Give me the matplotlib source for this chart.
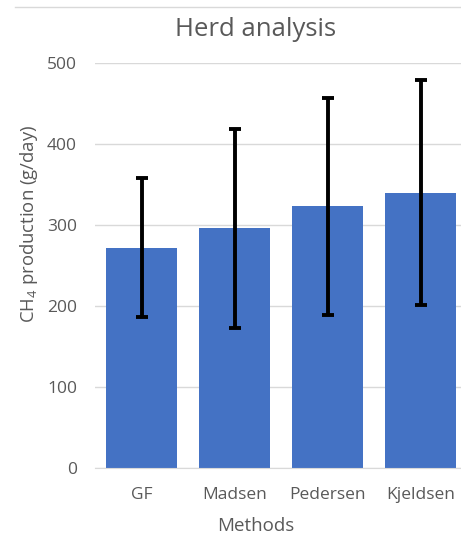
import matplotlib
matplotlib.use("Agg")
import matplotlib.pyplot as plt
from matplotlib.lines import Line2D

categories = ["GF", "Madsen", "Pedersen", "Kjeldsen"]
values = [272, 296, 323, 340]
errors = [86, 123, 134, 139]
yticks = [0, 100, 200, 300, 400, 500]

plt.rcParams['font.family'] = ['Open Sans', 'DejaVu Sans']
plt.rcParams['mathtext.fontset'] = 'custom'
plt.rcParams['mathtext.rm'] = 'Open Sans'
plt.rcParams['mathtext.it'] = 'Open Sans'

txt = '#595959'
fig = plt.figure(figsize=(4.61, 5.36), dpi=100)
W, H = 461, 536
ax = fig.add_axes([95 / W, 1 - 468 / H, 372 / W, (468 - 63) / H])

x = list(range(len(categories)))
ax.bar(x, values, width=0.77, color='#4472C4', zorder=2)
ax.errorbar(x, values, yerr=errors, fmt='none', ecolor='black', elinewidth=2.8,
            capsize=4, capthick=2.8, zorder=3)

ax.set_xlim(-0.5, 3.5)
ax.set_ylim(0, 500)
ax.set_yticks(yticks)
ax.set_xticks(x)
ax.set_xticklabels(categories)
ax.yaxis.grid(True, color='#D9D9D9', linewidth=1, zorder=0)
ax.set_axisbelow(True)
for s in ['top', 'right', 'left']:
    ax.spines[s].set_visible(False)
ax.spines['bottom'].set_color('#D9D9D9')
ax.tick_params(axis='both', length=0, labelsize=12.5, labelcolor=txt)
ax.tick_params(axis='y', pad=13)
ax.tick_params(axis='x', pad=14)

ax.set_xlabel('Methods', fontsize=13.5, color=txt)
ax.xaxis.set_label_coords((256 - 95) / 372, -(526 - 468) / 405)
ax.xaxis.label.set_va('center')
ax.set_ylabel(r'CH$_4$ production (g/day)', fontsize=13.3, color=txt)
ax.yaxis.set_label_coords((29 - 95) / 372, (468 - 224) / 405)
ax.yaxis.label.set_va('center')

fig.text(256 / W, 1 - 30 / H, 'Herd analysis', fontsize=18.5, color=txt,
         ha='center', va='center')
fig.add_artist(Line2D([15 / W, 1], [1 - 7 / H, 1 - 7 / H], color='#D9D9D9',
                      linewidth=1, transform=fig.transFigure))

fig.savefig('out.png', dpi=100)
